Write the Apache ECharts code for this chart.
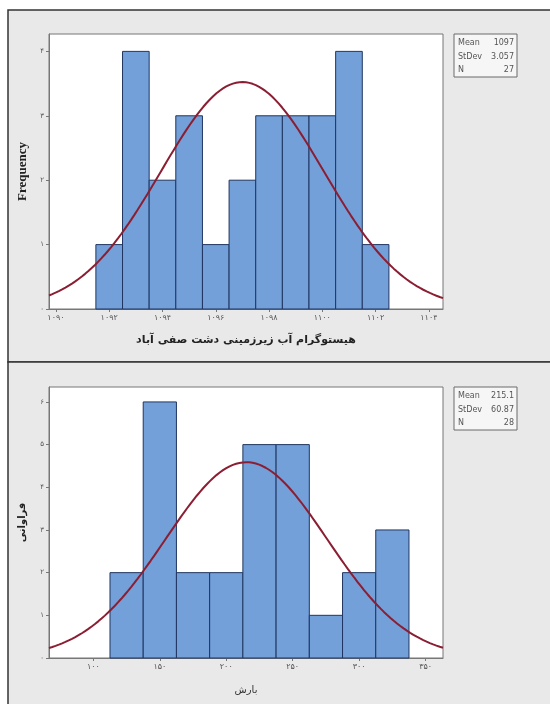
<!DOCTYPE html>
<html><head><meta charset="utf-8">
<script src="https://cdn.jsdelivr.net/npm/echarts@6/dist/echarts.min.js"></script>
<style>html,body{margin:0;padding:0;background:#fff}#c{width:550px;height:704px}</style>
</head><body><div id="c"></div>
<script>
// ---- top histogram (groundwater) ----
const topBinCenters = [1092,1093,1094,1095,1096,1097,1098,1099,1100,1101,1102];
const topCounts     = [1,4,2,3,1,2,3,3,3,4,1];
const topBinWidth   = 1;
const topXTicks     = [1090,1092,1094,1096,1098,1100,1102,1104];
const topYTicks     = [0,1,2,3,4];
const topStatNames  = ['Mean','StDev','N'];
const topStatValues = ['1097','3.057','27'];
const topMean = 1097, topSd = 3.057, topN = 27;
const topXRange = [1089.74, 1104.53];
const topYMax = 4.27;

// ---- bottom histogram (precipitation) ----
const botBinCenters = [125,150,175,200,225,250,275,300,325];
const botCounts     = [2,6,2,2,5,5,1,2,3];
const botBinWidth   = 25;
const botXTicks     = [100,150,200,250,300,350];
const botYTicks     = [0,1,2,3,4,5,6];
const botStatNames  = ['Mean','StDev','N'];
const botStatValues = ['215.1','60.87','28'];
const botMean = 215.1, botSd = 60.87, botN = 28;
const botXRange = [66.6, 363.1];
const botYMax = 6.35;

const fa = v => String(v).replace(/\d/g, d => '۰۱۲۳۴۵۶۷۸۹'[d]);

// fitted normal curve from the displayed Mean/StDev/N (scaled to bin width)
function normalFit(mean, sd, n, w, range){
  const pts = [];
  const steps = 120;
  for (let i = 0; i <= steps; i++){
    const x = range[0] + (range[1]-range[0]) * i / steps;
    const z = (x - mean) / sd;
    pts.push([x, n * w * Math.exp(-0.5*z*z) / (sd * Math.sqrt(2*Math.PI))]);
  }
  return pts;
}

function renderBar(params, api){
  const c = api.value(0), h = api.value(1), w = api.value(2);
  const p0 = api.coord([c - w/2, h]);
  const p1 = api.coord([c + w/2, 0]);
  return {type:'rect', shape:{x:p0[0], y:p0[1], width:p1[0]-p0[0], height:p1[1]-p0[1]},
    style:{fill:'#74a0d9', stroke:'#1f3560', lineWidth:1}};
}

function statBox(y, names, values){
  const children = [{type:'rect', shape:{x:0,y:0,width:63,height:43}, style:{fill:'#f6f6f6', stroke:'#6a6a6a', lineWidth:1}}];
  names.forEach((n,i)=>{
    children.push({type:'text', x:4, y:9+i*13.5, style:{text:n, fill:'#555', font:'8px "DejaVu Sans"', textVerticalAlign:'middle'}});
    children.push({type:'text', x:60, y:9+i*13.5, style:{text:values[i], fill:'#555', font:'8px "DejaVu Sans"', textAlign:'right', textVerticalAlign:'middle'}});
  });
  return {type:'group', x:454, y:y, children};
}

const axisCommon = {
  axisLine:{show:true, lineStyle:{color:'#777', width:1}},
  splitLine:{show:false}
};

const chart = echarts.init(document.getElementById('c'));
chart.setOption({
  backgroundColor:'#fff',
  animation:false,
  graphic:[
    {type:'rect', z:-10, shape:{x:8,y:10,width:560,height:352}, style:{fill:'#e9e9e9', stroke:'#333', lineWidth:1.5}},
    {type:'rect', z:-10, shape:{x:8,y:362,width:560,height:360}, style:{fill:'#e9e9e9', stroke:'#333', lineWidth:1.5}},
    statBox(34, topStatNames, topStatValues),
    statBox(387, botStatNames, botStatValues)
  ],
  grid:[
    {left:49, top:34, width:394, height:275, show:true, backgroundColor:'#fff', borderColor:'#777', borderWidth:1},
    {left:49, top:387, width:394, height:271, show:true, backgroundColor:'#fff', borderColor:'#777', borderWidth:1}
  ],
  xAxis:[
    Object.assign({}, axisCommon, {type:'value', gridIndex:0, min:topXRange[0], max:topXRange[1],
      axisTick:{show:true, length:3, lineStyle:{color:'#777'}, customValues:topXTicks},
      axisLabel:{customValues:topXTicks, formatter:fa, fontSize:8, color:'#555', margin:5, fontFamily:'DejaVu Sans'},
      name:'هیستوگرام آب زیرزمینی دشت صفی آباد', nameLocation:'middle', nameGap:26,
      nameTextStyle:{fontSize:11, fontWeight:'bold', color:'#222', fontFamily:'DejaVu Sans'}}),
    Object.assign({}, axisCommon, {type:'value', gridIndex:1, min:botXRange[0], max:botXRange[1],
      axisTick:{show:true, length:3, lineStyle:{color:'#777'}, customValues:botXTicks},
      axisLabel:{customValues:botXTicks, formatter:fa, fontSize:8, color:'#555', margin:5, fontFamily:'DejaVu Sans'},
      name:'بارش', nameLocation:'middle', nameGap:27,
      nameTextStyle:{fontSize:10, color:'#333', fontFamily:'DejaVu Sans'}})
  ],
  yAxis:[
    Object.assign({}, axisCommon, {type:'value', gridIndex:0, min:0, max:topYMax,
      axisTick:{show:true, length:3, lineStyle:{color:'#777'}, customValues:topYTicks},
      axisLabel:{customValues:topYTicks, formatter:fa, fontSize:7, color:'#555', margin:5, fontFamily:'DejaVu Sans'},
      name:'Frequency', nameLocation:'middle', nameGap:19,
      nameTextStyle:{fontSize:13, fontWeight:'bold', color:'#222', fontFamily:'Liberation Serif'}}),
    Object.assign({}, axisCommon, {type:'value', gridIndex:1, min:0, max:botYMax,
      axisTick:{show:true, length:3, lineStyle:{color:'#777'}, customValues:botYTicks},
      axisLabel:{customValues:botYTicks, formatter:fa, fontSize:7, color:'#555', margin:5, fontFamily:'DejaVu Sans'},
      name:'فراوانی', nameLocation:'middle', nameGap:22,
      nameTextStyle:{fontSize:10, fontWeight:'bold', color:'#222', fontFamily:'DejaVu Sans'}})
  ],
  series:[
    {type:'custom', xAxisIndex:0, yAxisIndex:0, renderItem:renderBar, encode:{x:0,y:1},
      data: topBinCenters.map((c,i)=>[c, topCounts[i], topBinWidth])},
    {type:'line', xAxisIndex:0, yAxisIndex:0, showSymbol:false, z:5, clip:true,
      lineStyle:{color:'#8b1e32', width:2}, itemStyle:{color:'#8b1e32'},
      data: normalFit(topMean, topSd, topN, topBinWidth, topXRange)},
    {type:'custom', xAxisIndex:1, yAxisIndex:1, renderItem:renderBar, encode:{x:0,y:1},
      data: botBinCenters.map((c,i)=>[c, botCounts[i], botBinWidth])},
    {type:'line', xAxisIndex:1, yAxisIndex:1, showSymbol:false, z:5, clip:true,
      lineStyle:{color:'#8b1e32', width:2}, itemStyle:{color:'#8b1e32'},
      data: normalFit(botMean, botSd, botN, botBinWidth, botXRange)}
  ]
});
</script></body></html>
